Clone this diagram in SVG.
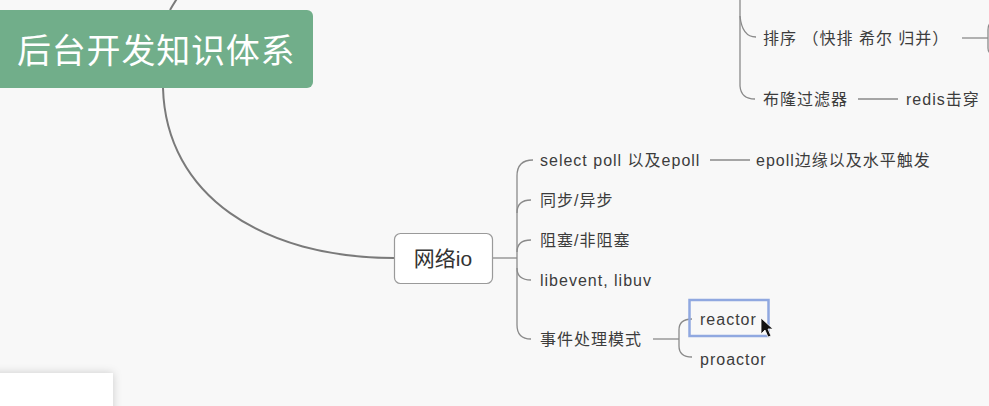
<svg xmlns="http://www.w3.org/2000/svg" width="989" height="406" viewBox="0 0 989 406">
<defs>
<style>
.t{font-family:"Liberation Sans","Noto Sans CJK SC",sans-serif;fill:#3c3c3c;font-size:16px;letter-spacing:1px}
.c{fill:none;stroke:#8a8a8a;stroke-width:1.3}
.m{fill:none;stroke:#7a7a7a;stroke-width:2}
</style>
<filter id="sh" x="-20%" y="-50%" width="140%" height="200%">
<feDropShadow dx="0" dy="0" stdDeviation="4" flood-color="#000" flood-opacity="0.18"/>
</filter>
</defs>
<rect width="989" height="406" fill="#f8f8f8"/>
<g id="connectors">
<path class="m" d="M170,10 Q174,3 180,-6"/>
<path class="m" d="M163,88 C166,195 262,258 394,258"/>
<path class="c" d="M492,258 L517,258"/>
<path class="c" d="M533,160 Q517,160 517,176 L517,325 Q517,339 531,339"/>
<path class="c" d="M517,213 Q517,200 531,200"/>
<path class="c" d="M517,252 Q517,240 531,240"/>
<path class="c" d="M517,268 Q517,280 531,280"/>
<path class="c" d="M710,160 L750,160"/>
<path class="c" d="M653,339 L679,339"/>
<path class="c" d="M692,319 Q679,319 679,330 L679,346 Q679,357 692,357"/>
<path class="c" d="M740,-2 L740,86 Q741,99 755,99"/>
<path class="c" d="M740,16 Q742,37 756,37"/>
<path class="c" d="M962,38 L988,38"/>
<path class="c" d="M994,22 Q988,22 988,30 L988,48 Q988,54 994,54"/>
<path class="c" d="M858,99 L898,99"/>
</g>
<g id="root">
<rect x="-10" y="10" width="323" height="78" rx="6" fill="#71ae8a"/>
<text x="17" y="63" font-family="Noto Sans CJK SC,Liberation Sans,sans-serif" font-size="34" letter-spacing="0.8" fill="#ffffff">后台开发知识体系</text>
</g>
<g id="n-sort"><text class="t" x="763" y="44">排序 （快排 希尔 归并）</text></g>
<g id="n-bloom"><text class="t" x="763" y="105">布隆过滤器</text></g>
<g id="n-redis"><text class="t" x="906" y="105">redis击穿</text></g>
<g id="n-net">
<rect x="394.5" y="233.5" width="98" height="50" rx="6" fill="#ffffff" stroke="#9a9a9a" stroke-width="1.2"/>
<text x="443" y="266" text-anchor="middle" font-family="Liberation Sans,Noto Sans CJK SC,sans-serif" font-size="21" fill="#333">网络io</text>
</g>
<g id="n-select"><text class="t" x="540" y="166">select poll 以及epoll</text></g>
<g id="n-epoll"><text class="t" x="756" y="166">epoll边缘以及水平触发</text></g>
<g id="n-sync"><text class="t" x="540" y="206">同步/异步</text></g>
<g id="n-block"><text class="t" x="540" y="246">阻塞/非阻塞</text></g>
<g id="n-lib"><text class="t" x="540" y="286">libevent, libuv</text></g>
<g id="n-event"><text class="t" x="540" y="345">事件处理模式</text></g>
<g id="n-reactor">
<rect x="689.5" y="300" width="79" height="36" fill="none" stroke="#90a8e0" stroke-width="2.5"/>
<text class="t" x="700" y="325">reactor</text>
</g>
<g id="n-proactor"><text class="t" x="700" y="365">proactor</text></g>
<g id="panel">
<rect x="-10" y="373" width="123" height="45" fill="#ffffff" filter="url(#sh)"/>
</g>
<path d="M761,318 L761,334 L765,330 L768,337 L771,336 L768,329 L773,329 Z" fill="#111" stroke="#fff" stroke-width="0.8"/>
</svg>
